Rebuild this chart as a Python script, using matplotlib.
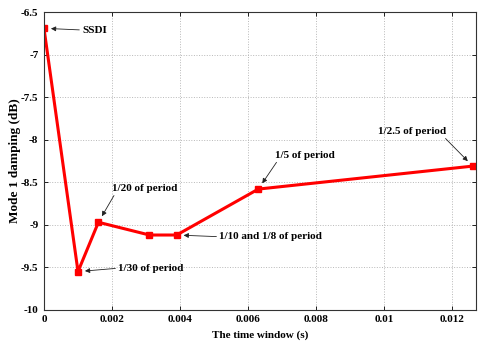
import matplotlib
matplotlib.use("Agg")
import matplotlib.pyplot as plt

# Damping of mode 1 versus the length of the time window
window = [0.0, 0.001, 0.0016, 0.0031, 0.0039, 0.0063, 0.0126]
damping = [-6.69, -9.55, -8.97, -9.12, -9.12, -8.58, -8.31]
xticks = [0, 0.002, 0.004, 0.006, 0.008, 0.01, 0.012]
xtick_labels = ["0", "0.002", "0.004", "0.006", "0.008", "0.01", "0.012"]
yticks = [-10, -9.5, -9, -8.5, -8, -7.5, -7, -6.5]
ytick_labels = ["-10", "-9.5", "-9", "-8.5", "-8", "-7.5", "-7", "-6.5"]

plt.rcParams["font.family"] = ["Liberation Serif", "DejaVu Serif"]
plt.rcParams["font.weight"] = "bold"

fig = plt.figure(figsize=(4.78, 3.47), dpi=100)
ax = fig.add_axes([0.092, 0.107, 0.904, 0.858])

ax.plot(window, damping, color="red", lw=2.2, marker="s", ms=5, mec="red", mfc="red")

ax.set_xlim(0, 0.0127)
ax.set_ylim(-10, -6.5)
ax.set_xticks(xticks)
ax.set_xticklabels(xtick_labels, fontsize=8, fontweight="bold")
ax.set_yticks(yticks)
ax.set_yticklabels(ytick_labels, fontsize=8, fontweight="bold")
ax.tick_params(direction="in", length=3, width=0.6, top=True, right=True, pad=4)
ax.grid(True, linestyle=":", color="#b8b8b8", linewidth=0.7)
for s in ax.spines.values():
    s.set_linewidth(0.8)
    s.set_color("#333333")

ax.set_xlabel("The time window (s)", fontsize=8, fontweight="bold", labelpad=4)
ax.set_ylabel("Mode 1 damping (dB)", fontsize=9.5, fontweight="bold", labelpad=0)

arrow = dict(arrowstyle="-|>", color="#222222", lw=0.6, mutation_scale=7, shrinkA=0, shrinkB=5)

# (label, point index, text position, horizontal align, relpos of arrow start)
notes = [
    ("SSDI", 0, (0.00112, -6.71), "left", (0, 0.5)),
    ("1/30 of period", 1, (0.00218, -9.51), "left", (0, 0.5)),
    ("1/20 of period", 2, (0.00297, -8.57), "center", (0.05, 0)),
    ("1/10 and 1/8 of period", 4, (0.00515, -9.14), "left", (0, 0.5)),
    ("1/5 of period", 5, (0.00768, -8.18), "center", (0.05, 0)),
    ("1/2.5 of period", 6, (0.01082, -7.90), "center", (0.95, 0)),
]
for text, i, pos, ha, rel in notes:
    a = dict(arrow, relpos=rel)
    ax.annotate(text, xy=(window[i], damping[i]), xytext=pos, ha=ha, va="center",
                fontsize=8, fontweight="bold", arrowprops=a)

fig.savefig("out.png", dpi=100)
